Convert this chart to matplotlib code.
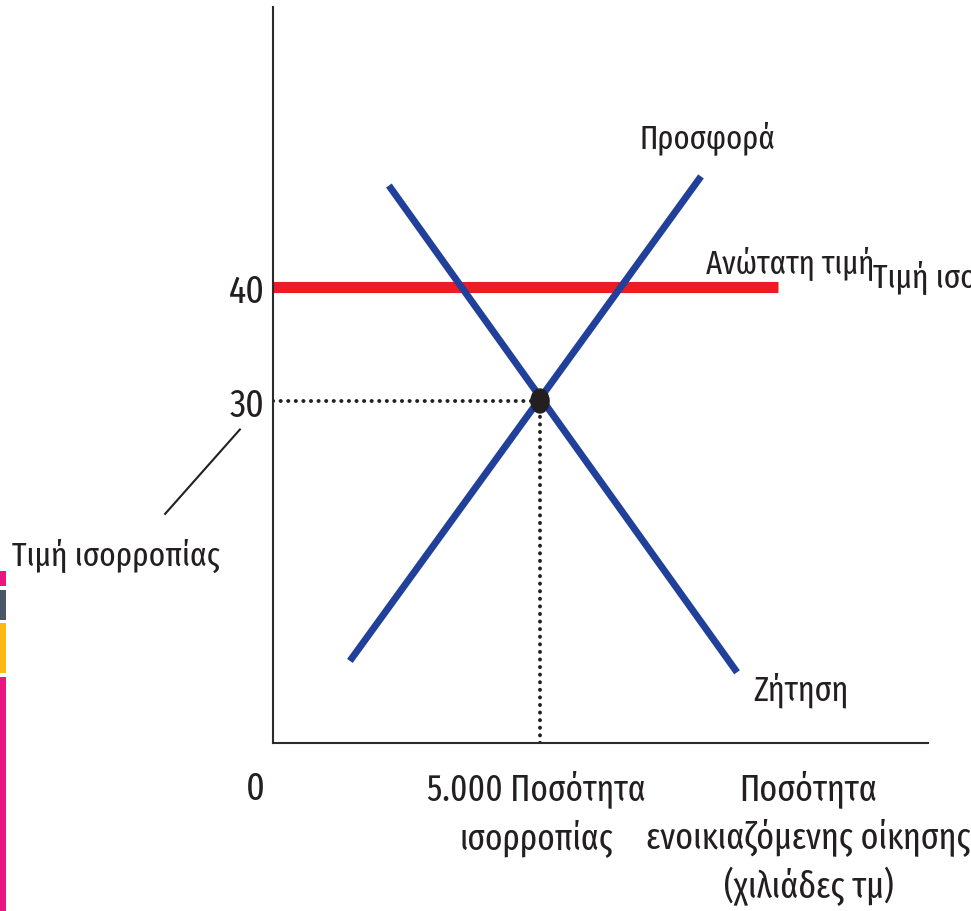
import matplotlib
matplotlib.use("Agg")
import matplotlib.pyplot as plt
from matplotlib.patches import Ellipse, Rectangle
from matplotlib.lines import Line2D
import matplotlib.font_manager as fm

names = {f.name for f in fm.fontManager.ttflist}
FAM = [n for n in ["Fira Sans Extra Condensed", "Roboto Condensed", "Liberation Sans Narrow",
                   "Liberation Sans", "DejaVu Sans"] if n in names]
plt.rcParams['font.family'] = FAM

# ---- data ----
supply_x = [1440, 8015]
supply_y = [7.2, 49.7]
demand_x = [2170, 8690]
demand_y = [48.9, 6.2]
ceiling_x = [0, 9460]
ceiling_y = [40, 40]
eq_q = 5000
eq_p = 30
y_ticks = [30, 40]
y_tick_labels = ["30", "40"]
supply_label = "Προσφορά"
demand_label = "Ζήτηση"
ceiling_label = "Ανώτατη τιμή"
ceiling_label2 = "Τιμή ισορροπίας"
eq_price_label = "Τιμή ισορροπίας"
eq_q_label = "5.000 Ποσότητα\nισορροπίας"
x_axis_label = "Ποσότητα\nενοικιαζόμενης οίκησης\n(χιλιάδες τμ)"

W, H = 971, 912
fig = plt.figure(figsize=(W / 100, H / 100), dpi=100)
ax = fig.add_axes([273 / W, (H - 744) / H, (928 - 273) / W, (744 - 8) / H])
ax.set_xlim(0, (928 - 273) / 53.4 * 1000)
ax.set_ylim(0, (744 - 8) / 11.4)

for s in ["top", "right"]:
    ax.spines[s].set_visible(False)
for s in ["left", "bottom"]:
    ax.spines[s].set_linewidth(1.5)
    ax.spines[s].set_color("#2b2b2b")

ax.set_xticks([])
ax.set_yticks(y_ticks)
ax.set_yticklabels(y_tick_labels, fontsize=28, color="#231f20")
ax.tick_params(axis="y", length=0, pad=6)

blue = "#21409a"
red = "#ed1c24"

ax.plot(ceiling_x, ceiling_y, color=red, lw=8, solid_capstyle="butt", zorder=2)
ax.plot(supply_x, supply_y, color=blue, lw=5, solid_capstyle="butt", zorder=3)
ax.plot(demand_x, demand_y, color=blue, lw=5, solid_capstyle="butt", zorder=3)

ax.plot([0, eq_q], [eq_p, eq_p], color="#231f20", lw=2.8, linestyle=(0, (0.05, 1.9)),
        dash_capstyle="round", zorder=1)
ax.plot([eq_q, eq_q], [0, eq_p], color="#231f20", lw=2.8, linestyle=(0, (0.05, 1.9)),
        dash_capstyle="round", zorder=1)
ax.add_patch(Ellipse((eq_q, eq_p), width=340, height=2.1, color="#231f20", zorder=5))

tc = "#231f20"
ax.text(6860, 52.3, supply_label, fontsize=24, color=tc, ha="left", va="baseline")
ax.text(8110, 41.2, ceiling_label, fontsize=24, color=tc, ha="left", va="baseline")
ax.text(11240, 40.0, ceiling_label2, fontsize=24.5, color=tc, ha="left", va="baseline", clip_on=False)
ax.text(9000, 3.85, demand_label, fontsize=25, color=tc, ha="left", va="baseline")

ax.text(-337, -2.3, "0", fontsize=28, color=tc, ha="center", va="top", clip_on=False)
ax.text(eq_q - 70, -2.3, eq_q_label, fontsize=26, color=tc, ha="center", va="top",
        linespacing=1.35, clip_on=False)
ax.text(10030, -2.3, x_axis_label, fontsize=26.5, color=tc, ha="center", va="top",
        linespacing=1.33, clip_on=False)

ax.text(-261 / 53.4 * 1000, 15.6, eq_price_label, fontsize=24.5, color=tc, ha="left",
        va="baseline", clip_on=False)
ax.add_line(Line2D([-2020, -620], [20.1, 27.5], color="#231f20", lw=1.5, clip_on=False))

# decorative side strips
strips = [(572, 587, "#e8177f"), (591, 621, "#4a5567"), (624, 674, "#fdb813"), (678, 912, "#e8177f")]
for y0, y1, c in strips:
    fig.add_artist(Rectangle((0, 1 - y1 / H), 6 / W, (y1 - y0) / H, transform=fig.transFigure,
                             color=c, lw=0))

fig.savefig("out.png", dpi=100)
